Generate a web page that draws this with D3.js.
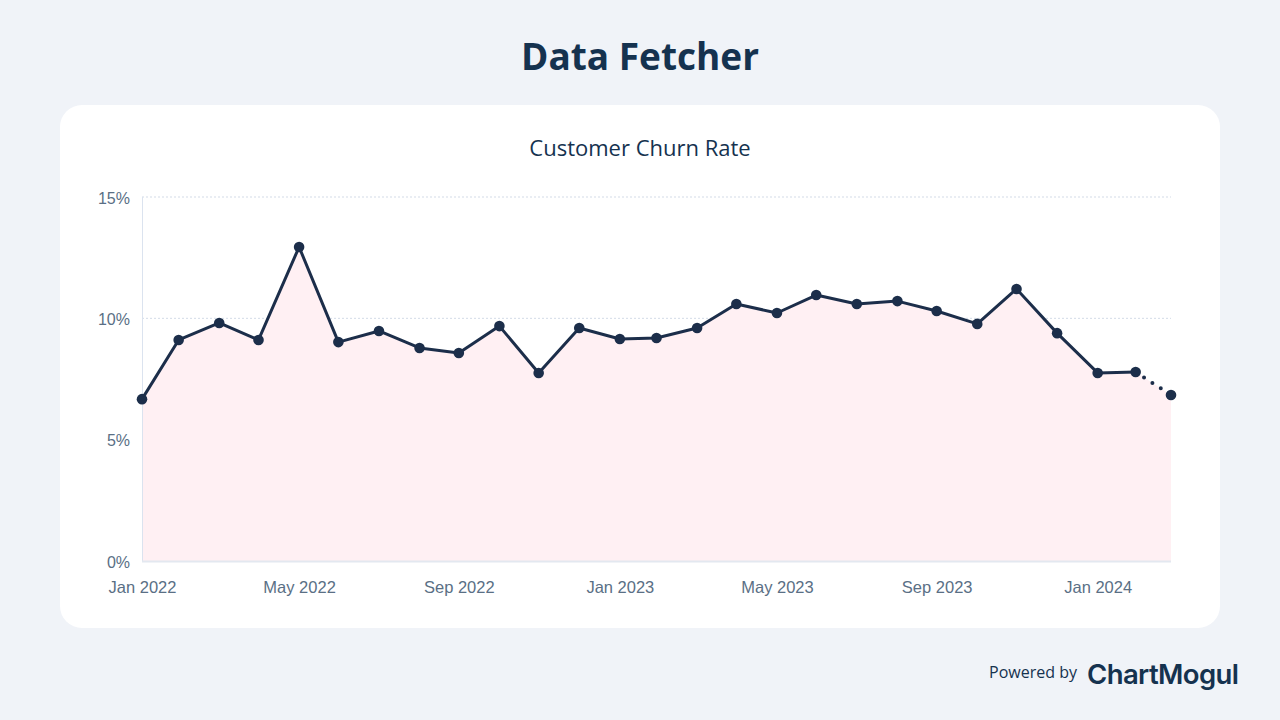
<!DOCTYPE html>
<html><head><meta charset="utf-8">
<script src="https://cdn.jsdelivr.net/npm/d3@7"></script>
<style>
html,body{margin:0;padding:0;background:#f0f3f8;}
svg{display:block;}
</style></head>
<body>
<svg id="c" width="1280" height="720"></svg>
<script>
const dates = ["2022-01-31","2022-02-28","2022-03-31","2022-04-30","2022-05-31","2022-06-30","2022-07-31","2022-08-31","2022-09-30","2022-10-31","2022-11-30","2022-12-31",
"2023-01-31","2023-02-28","2023-03-31","2023-04-30","2023-05-31","2023-06-30","2023-07-31","2023-08-31","2023-09-30","2023-10-31","2023-11-30","2023-12-31",
"2024-01-31","2024-02-29","2024-03-27"];
const churn = [6.67,9.11,9.81,9.11,12.94,9.02,9.48,8.78,8.57,9.68,7.75,9.60,
9.15,9.19,9.60,10.59,10.22,10.96,10.59,10.71,10.30,9.77,11.21,9.39,
7.75,7.79,6.84];
const yTicks = [0,5,10,15];
const xTickDates = ["2022-01-31","2022-05-31","2022-09-30","2023-01-31","2023-05-31","2023-09-30","2024-01-31"];

const parse = d3.timeParse("%Y-%m-%d");
const data = dates.map((m,i)=>({date:parse(m), v:churn[i]}));

const svg = d3.select("#c");
svg.append("text").attr("x",640).attr("y",70).attr("text-anchor","middle")
  .attr("font-family","'Open Sans','Noto Sans',sans-serif").attr("font-weight",700)
  .attr("font-size",37).attr("fill","#15324f").text("Data Fetcher");

svg.append("rect").attr("x",60).attr("y",105).attr("width",1160).attr("height",523)
  .attr("rx",22).attr("fill","#ffffff");

svg.append("text").attr("x",640).attr("y",156).attr("text-anchor","middle")
  .attr("font-family","'Open Sans','Noto Sans',sans-serif")
  .attr("font-size",22).attr("fill","#15324f").text("Customer Churn Rate");

const x = d3.scaleTime().domain([data[0].date, data[data.length-1].date]).range([142,1171]);
const y = d3.scaleLinear().domain([0,15]).range([561,197]);

// grid
svg.append("g").selectAll("line").data(yTicks.filter(t=>t>0)).join("line")
  .attr("x1",142).attr("x2",1171).attr("y1",d=>y(d)).attr("y2",d=>y(d))
  .attr("stroke","#d3dbe7").attr("stroke-width",1).attr("stroke-dasharray","2,2");

// area
svg.append("path").datum(data)
  .attr("d", d3.area().x(d=>x(d.date)).y0(y(0)).y1(d=>y(d.v)))
  .attr("fill","#fff0f3");

// axes lines
svg.append("line").attr("x1",142.5).attr("x2",142.5).attr("y1",197).attr("y2",561)
  .attr("stroke","#dbe3ef").attr("stroke-width",1);
svg.append("line").attr("x1",142).attr("x2",1171).attr("y1",561.5).attr("y2",561.5)
  .attr("stroke","#e3e8f0").attr("stroke-width",2);

// y tick labels
const yAxis = d3.axisLeft(y).tickValues(yTicks).tickFormat(d=>d+"%").tickSize(0).tickPadding(12);
const yg = svg.append("g").attr("transform","translate(142,1)").call(yAxis);
yg.select(".domain").remove();
yg.selectAll("text").attr("font-family","'Liberation Sans',Arial,sans-serif")
  .attr("font-size",16).attr("fill","#5a6f85");

// x tick labels
const xAxis = d3.axisBottom(x).tickValues(xTickDates.map(parse)).tickFormat(d3.timeFormat("%b %Y")).tickSize(0).tickPadding(20);
const xg = svg.append("g").attr("transform","translate(0,561)").call(xAxis);
xg.select(".domain").remove();
xg.selectAll("text").attr("font-family","'Liberation Sans',Arial,sans-serif")
  .attr("font-size",16.5).attr("fill","#5a6f85");

// line (solid except last segment)
const line = d3.line().x(d=>x(d.date)).y(d=>y(d.v));
svg.append("path").datum(data.slice(0,data.length-1)).attr("d",line)
  .attr("fill","none").attr("stroke","#1c2e4a").attr("stroke-width",3).attr("stroke-linejoin","round");
svg.append("path").datum(data.slice(data.length-2)).attr("d",line)
  .attr("fill","none").attr("stroke","#1c2e4a").attr("stroke-width",4)
  .attr("stroke-linecap","round").attr("stroke-dasharray","0,10");

svg.append("g").selectAll("circle").data(data).join("circle")
  .attr("cx",d=>x(d.date)).attr("cy",d=>y(d.v)).attr("r",5.3).attr("fill","#1c2e4a");

// footer
svg.append("text").attr("x",1077).attr("y",678).attr("text-anchor","end")
  .attr("font-family","'Open Sans','Noto Sans',sans-serif")
  .attr("font-size",16).attr("fill","#15324f").text("Powered by");
svg.append("text").attr("x",1087).attr("y",684)
  .attr("font-family","'Inter','Noto Sans',sans-serif").attr("font-weight",600)
  .attr("font-size",27.5).attr("letter-spacing",-0.6).attr("fill","#15324f").text("ChartMogul");
</script>
</body></html>
